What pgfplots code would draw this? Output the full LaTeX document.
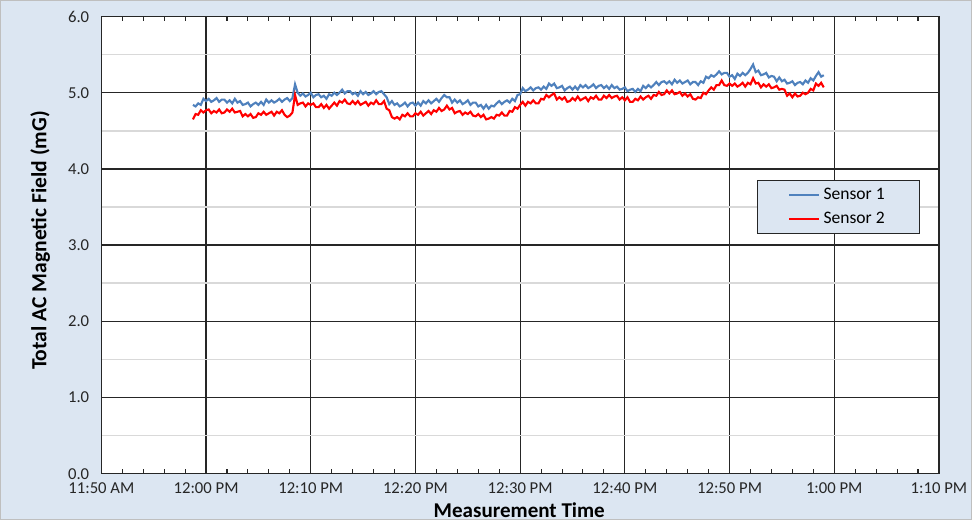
\documentclass[border=0pt]{standalone}
\usepackage{pgfplots}
\usepackage{pgfplotstable}
\pgfplotsset{compat=1.18}
\usepackage{fontspec}
\setmainfont{Carlito}
\definecolor{panelbg}{HTML}{DCE6F2}
\definecolor{sensorblue}{HTML}{4F81BD}
\definecolor{sensorred}{HTML}{FF0000}
\definecolor{minorgrid}{HTML}{D9D9D9}

% t = minutes after 11:50 AM, s1/s2 in mG
\pgfplotstableread{
t s1 s2
8.75 4.84 4.65
9.00 4.82 4.72
9.25 4.86 4.71
9.50 4.84 4.77
9.75 4.92 4.74
10.00 4.89 4.77
10.25 4.92 4.78
10.50 4.88 4.73
10.75 4.90 4.76
11.00 4.93 4.74
11.25 4.88 4.78
11.50 4.91 4.73
11.75 4.91 4.74
12.00 4.87 4.78
12.25 4.90 4.75
12.50 4.86 4.79
12.75 4.92 4.74
13.00 4.87 4.75
13.25 4.89 4.76
13.50 4.84 4.69
13.75 4.85 4.72
14.00 4.87 4.69
14.25 4.82 4.72
14.50 4.85 4.67
14.75 4.87 4.68
15.00 4.84 4.73
15.25 4.88 4.71
15.50 4.84 4.75
15.75 4.91 4.71
16.00 4.87 4.73
16.25 4.90 4.75
16.50 4.87 4.70
16.75 4.89 4.75
17.00 4.92 4.73
17.25 4.88 4.77
17.50 4.91 4.71
17.75 4.93 4.68
18.00 4.89 4.70
18.25 4.93 4.74
18.50 5.11 4.97
18.75 5.00 4.84
19.00 4.96 4.86
19.25 4.99 4.87
19.50 4.95 4.82
19.75 4.97 4.86
20.00 5.00 4.84
20.25 4.94 4.86
20.50 4.97 4.81
20.75 4.98 4.81
21.00 4.94 4.85
21.25 4.96 4.80
21.50 4.92 4.84
21.75 4.98 4.79
22.00 4.96 4.83
22.25 5.00 4.87
22.50 4.97 4.83
22.75 5.00 4.89
23.00 5.04 4.87
23.25 4.99 4.91
23.50 5.02 4.86
23.75 5.02 4.85
24.00 4.98 4.89
24.25 5.00 4.85
24.50 4.96 4.89
24.75 5.02 4.84
25.00 4.98 4.86
25.25 5.01 4.88
25.50 4.97 4.83
25.75 4.99 4.87
26.00 5.02 4.85
26.25 4.98 4.90
26.50 5.01 4.85
26.75 5.02 4.85
27.00 4.98 4.89
27.25 4.94 4.79
27.50 4.85 4.77
27.75 4.89 4.68
28.00 4.84 4.66
28.25 4.86 4.68
28.50 4.82 4.65
28.75 4.84 4.71
29.00 4.87 4.69
29.25 4.82 4.73
29.50 4.86 4.69
29.75 4.87 4.69
30.00 4.83 4.73
30.25 4.87 4.71
30.50 4.83 4.75
30.75 4.89 4.70
31.00 4.86 4.73
31.25 4.90 4.76
31.50 4.86 4.72
31.75 4.89 4.77
32.00 4.92 4.75
32.25 4.88 4.80
32.50 4.93 4.76
32.75 4.97 4.78
33.00 4.94 4.83
33.25 4.94 4.78
33.50 4.87 4.80
33.75 4.91 4.73
34.00 4.87 4.75
34.25 4.90 4.76
34.50 4.85 4.71
34.75 4.87 4.74
35.00 4.90 4.72
35.25 4.84 4.75
35.50 4.87 4.70
35.75 4.87 4.69
36.00 4.82 4.72
36.25 4.84 4.68
36.50 4.79 4.71
36.75 4.84 4.65
37.00 4.79 4.66
37.25 4.83 4.68
37.50 4.82 4.66
37.75 4.86 4.71
38.00 4.89 4.70
38.25 4.85 4.74
38.50 4.88 4.70
38.75 4.90 4.70
39.00 4.87 4.76
39.25 4.92 4.75
39.50 4.89 4.81
39.75 4.97 4.79
40.00 4.98 4.84
40.25 5.06 4.88
40.50 5.02 4.83
40.75 5.04 4.88
41.00 5.07 4.86
41.25 5.03 4.90
41.50 5.06 4.86
41.75 5.07 4.86
42.00 5.04 4.92
42.25 5.08 4.91
42.50 5.05 4.97
42.75 5.12 4.94
43.00 5.09 4.97
43.25 5.12 4.99
43.50 5.06 4.91
43.75 5.07 4.94
44.00 5.09 4.91
44.25 5.03 4.94
44.50 5.06 4.88
44.75 5.08 4.89
45.00 5.04 4.93
45.25 5.08 4.90
45.50 5.04 4.95
45.75 5.10 4.90
46.00 5.07 4.92
46.25 5.10 4.94
46.50 5.06 4.89
46.75 5.08 4.94
47.00 5.11 4.92
47.25 5.06 4.96
47.50 5.09 4.91
47.75 5.10 4.91
48.00 5.06 4.96
48.25 5.09 4.93
48.50 5.05 4.97
48.75 5.10 4.93
49.00 5.06 4.95
49.25 5.08 4.96
49.50 5.04 4.91
49.75 5.05 4.94
50.00 5.07 4.90
50.25 5.02 4.94
50.50 5.04 4.88
50.75 5.05 4.88
51.00 5.01 4.92
51.25 5.05 4.90
51.50 5.02 4.95
51.75 5.09 4.91
52.00 5.06 4.94
52.25 5.10 4.96
52.50 5.07 4.92
52.75 5.10 4.97
53.00 5.14 4.96
53.25 5.10 5.01
53.50 5.14 4.97
53.75 5.15 4.98
54.00 5.12 5.03
54.25 5.15 4.99
54.50 5.11 5.03
54.75 5.17 4.98
55.00 5.13 4.99
55.25 5.16 5.01
55.50 5.12 4.96
55.75 5.14 4.99
56.00 5.16 4.95
56.25 5.11 4.98
56.50 5.14 4.92
56.75 5.14 4.91
57.00 5.10 4.94
57.25 5.15 4.93
57.50 5.13 5.00
57.75 5.21 4.98
58.00 5.19 5.03
58.25 5.23 5.07
58.50 5.21 5.04
58.75 5.24 5.10
59.00 5.28 5.10
59.25 5.24 5.16
59.50 5.26 5.10
59.75 5.26 5.09
60.00 5.21 5.12
60.25 5.23 5.09
60.50 5.18 5.12
60.75 5.25 5.08
61.00 5.22 5.10
61.25 5.26 5.13
61.50 5.23 5.08
61.75 5.26 5.13
62.00 5.31 5.11
62.25 5.37 5.19
62.50 5.27 5.12
62.75 5.29 5.13
63.00 5.23 5.07
63.25 5.24 5.11
63.50 5.26 5.08
63.75 5.20 5.11
64.00 5.22 5.06
64.25 5.21 5.07
64.50 5.15 5.09
64.75 5.20 5.04
65.00 5.15 5.05
65.25 5.17 5.04
65.50 5.12 4.96
65.75 5.13 4.99
66.00 5.15 4.94
66.25 5.10 4.99
66.50 5.13 4.95
66.75 5.14 4.96
67.00 5.11 5.00
67.25 5.16 4.98
67.50 5.13 5.00
67.75 5.19 5.05
68.00 5.16 5.03
68.25 5.22 5.12
68.50 5.27 5.09
68.75 5.21 5.13
69.00 5.23 5.07
}\fielddata

\begin{document}
\begin{tikzpicture}
% chart area background (1px = 0.02cm)
\fill[panelbg, draw=black!25, line width=0.6pt] (-2.02,-0.92) rectangle (17.44,9.48);
\begin{axis}[
  scale only axis,
  width=16.78cm, height=9.16cm,
  xmin=0, xmax=80, ymin=0, ymax=6,
  xtick={0,10,...,80},
  xticklabels={11:50 AM,12:00 PM,12:10 PM,12:20 PM,12:30 PM,12:40 PM,12:50 PM,1:00 PM,1:10 PM},
  minor x tick num=4,
  ytick={0,1,...,6},
  minor ytick={0.5,1.5,...,5.5},
  /pgf/number format/fixed,
  /pgf/number format/fixed zerofill,
  /pgf/number format/precision=1,
  /pgf/number format/assume math mode=true,
  tick label style={font=\fontsize{9.5}{11}\selectfont, text=black!85},
  yticklabel style={xshift=-0.12cm},
  xticklabel style={yshift=-0.05cm},
  xmajorgrids, ymajorgrids, yminorgrids,
  major grid style={black!85, line width=0.7pt},
  minor grid style={minorgrid, line width=0.9pt},
  axis line style={black!85, line width=0.8pt},
  axis background/.style={fill=white},
  tick align=inside,
  major tick length=0pt,
  minor tick length=0.1cm,
  every minor tick/.style={black!85, line width=0.6pt},
  ytick style={draw=none},
  xlabel={Measurement Time},
  ylabel={Total AC Magnetic Field (mG)},
  xlabel style={font=\fontsize{12}{14}\selectfont\bfseries, at={(axis description cs:0.499,-0.079)}, anchor=center},
  ylabel style={font=\fontsize{12.3}{14}\selectfont\bfseries, at={(axis description cs:-0.073,0.51)}, anchor=center},
  legend style={at={(rel axis cs:0.977,0.642)}, anchor=north east,
    fill=panelbg, draw=black!85, line width=0.6pt,
    font=\fontsize{10}{12}\selectfont, inner xsep=0.62cm, inner ysep=0.08cm,
    row sep=0.05cm},
  legend cell align=left,
]
\addplot[sensorblue, line width=1.2pt] table[x=t, y=s1] {\fielddata};
\addlegendentry{Sensor 1}
\addplot[sensorred, line width=1.2pt] table[x=t, y=s2] {\fielddata};
\addlegendentry{Sensor 2}
\end{axis}
\end{tikzpicture}
\end{document}
